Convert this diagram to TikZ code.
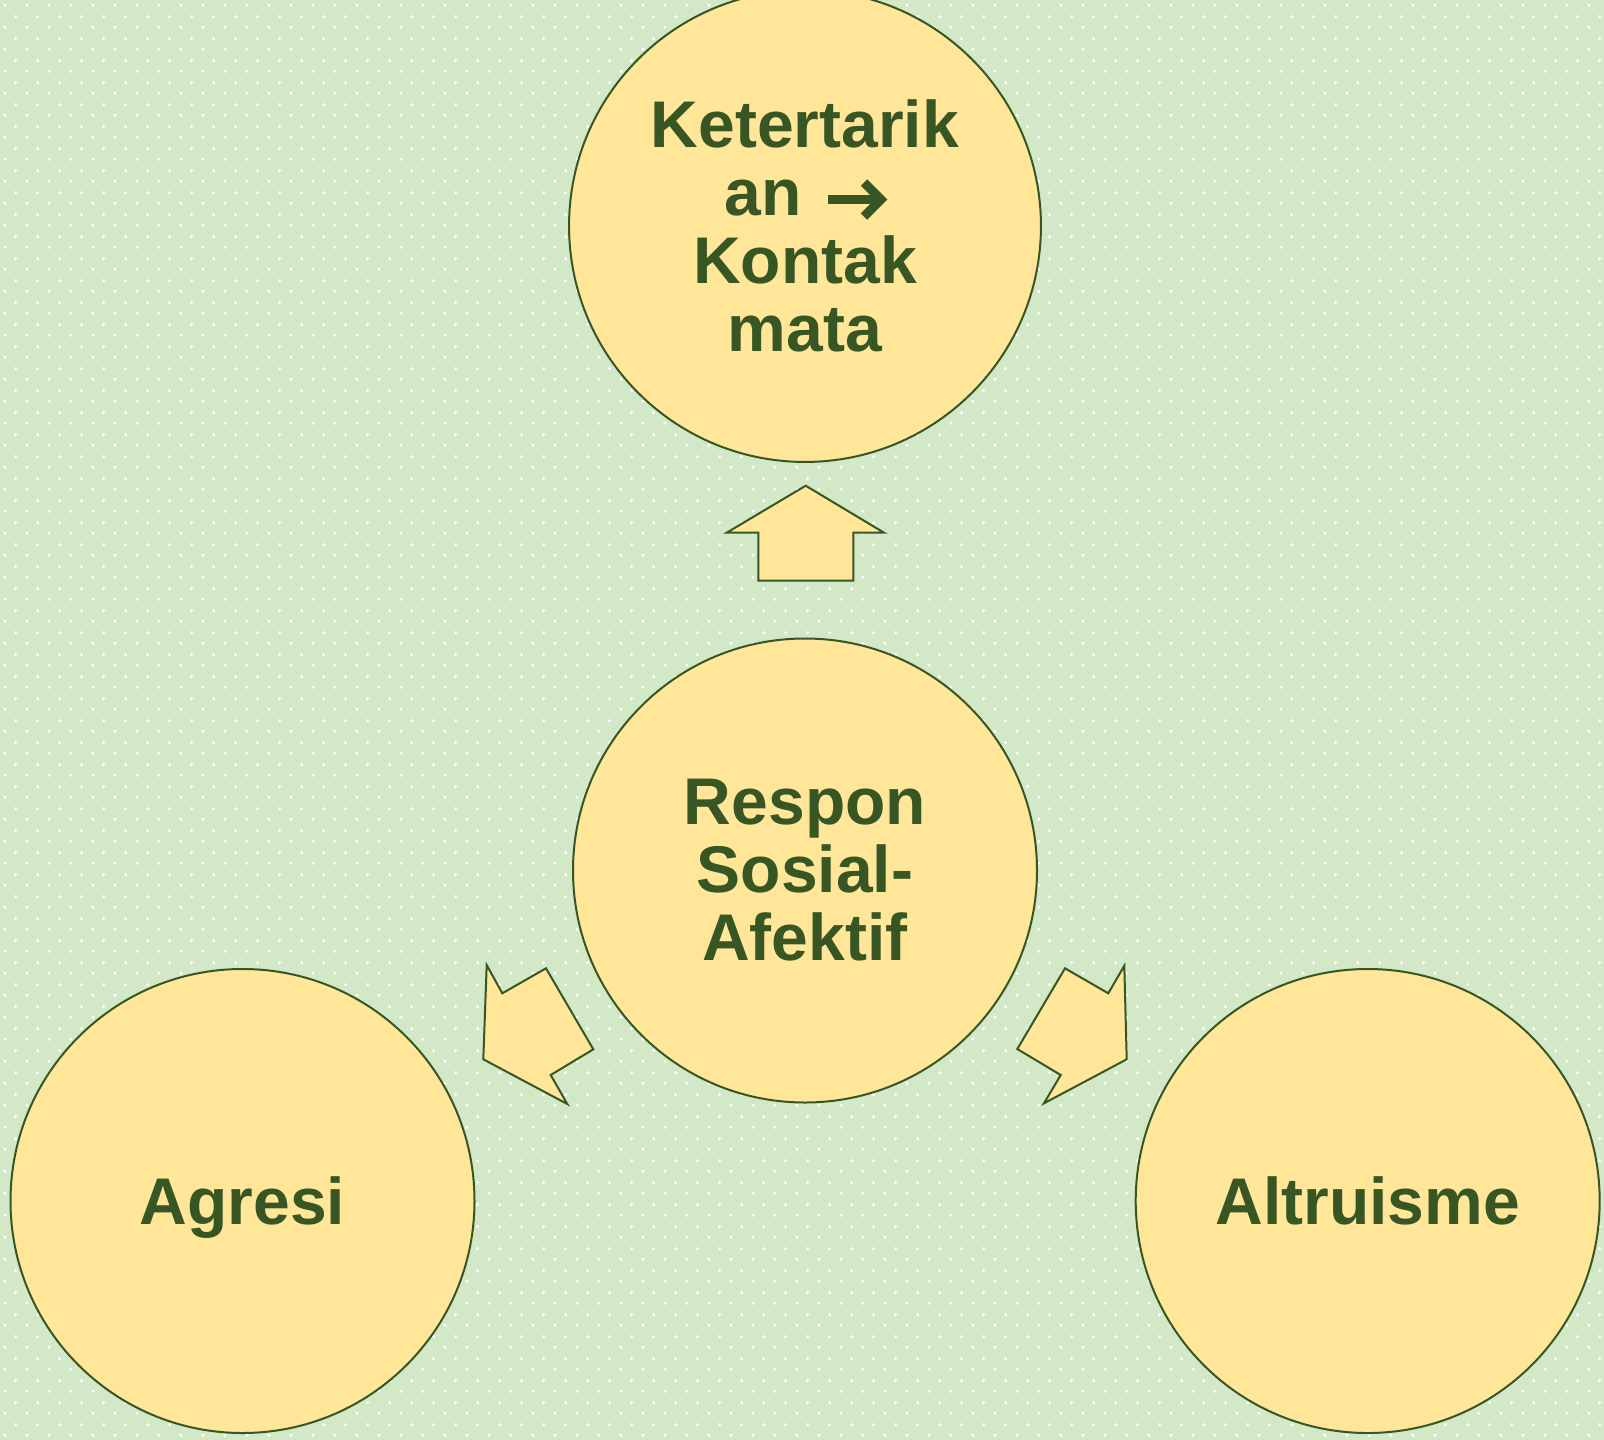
\documentclass[tikz,border=0pt]{standalone}
\usepackage{fontspec}
\setmainfont{Liberation Sans}
\usetikzlibrary{patterns}
\definecolor{bgc}{HTML}{D3E8C6}
\definecolor{circfill}{HTML}{FFE699}
\definecolor{dkgreen}{HTML}{375623}
\pgfdeclarepatternformonly{stardots}{\pgfpointorigin}{\pgfpoint{21.7pt}{22pt}}{\pgfpoint{21.7pt}{22pt}}{%
  \pgfpathcircle{\pgfpoint{5pt}{5pt}}{1.7pt}%
  \pgfpathcircle{\pgfpoint{15.85pt}{16pt}}{1.7pt}%
  \pgfusepath{fill}}
\newcommand{\bigarrow}{\tikz[baseline=0pt,x=1pt,y=1pt]{%
  \draw[draw=dkgreen,line width=9pt,line cap=butt] (0,16) -- (52,16);
  \draw[draw=dkgreen,line width=9pt,line join=miter,line cap=butt] (36,33) -- (53,16) -- (36,-1);}}
\begin{document}
\begin{tikzpicture}[x=1pt,y=-1pt,
  circ/.style={circle,draw=dkgreen,fill=circfill,line width=2pt,minimum size=464pt,inner sep=0pt,
    text=dkgreen,font=\fontsize{66}{68}\selectfont\bfseries,align=center,text width=400pt},
  arrowshape/.style={draw=dkgreen,fill=circfill,line width=2pt,line join=miter}]
\useasboundingbox (0,0) rectangle (1604,1440);
\fill[bgc] (0,0) rectangle (1604,1440);
\fill[pattern=stardots,pattern color=white] (0,0) rectangle (1604,1440);
\node[circ] (top) at (805,226) {Ketertarik\\an \bigarrow\\Kontak\\mata};
\node[circ] (mid) at (805,870.5) {Respon\\Sosial-\\Afektif};
\node[circ] (left) at (242.5,1201) {\raisebox{0pt}[\height][0pt]{Agresi}};
\node[circ] (right) at (1367.7,1201) {Altruisme};
\draw[arrowshape] (805.7,485.7) -- (884,532.7) -- (853.3,532.7) -- (853.3,580.7) -- (758.3,580.7) -- (758.3,532.7) -- (726.7,532.7) -- cycle;
\draw[arrowshape] (486.7,965) -- (502.3,993.3) -- (546,968.3) -- (593.3,1049.3) -- (550.7,1075) -- (567.3,1104) -- (483.3,1059.3) -- cycle;
\draw[arrowshape] (1124.3,965.7) -- (1108.3,993.3) -- (1065,968.3) -- (1017.3,1049) -- (1060.7,1075) -- (1044,1103.3) -- (1126.7,1059.3) -- cycle;
\end{tikzpicture}
\end{document}
